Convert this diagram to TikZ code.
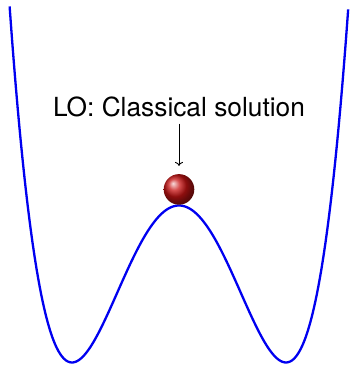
\documentclass[tikz,border=0pt]{standalone}
\usepackage{fontspec}
\setmainfont{TeX Gyre Heros}
\usetikzlibrary{arrows.meta,positioning}
\definecolor{WellBlue}{HTML}{0000F0}
\definecolor{BallRed}{HTML}{C81414}
\definecolor{Ink}{HTML}{000000}
\tikzset{
  well/.style={draw=WellBlue,line width=2.3pt,line join=round},
  bead/.style={circle,shading=ball,ball color=BallRed,minimum size=30.6pt,inner sep=0pt},
  lbl/.style={font=\fontsize{26.3}{30}\selectfont,text=Ink,inner sep=0pt,anchor=base},
  pnt/.style={draw=Ink,line width=0.9pt,-{To[length=4pt,width=8pt]}},
}
\begin{document}
\begin{tikzpicture}[x=1pt,y=1pt]
\useasboundingbox (0,0) rectangle (349,365);
% Double-well potential, minima at +-107 around the hump.
\draw[well] plot[domain=-1.583:1.583,samples=181,smooth] ({179+107*\x},{2.5+157*(\x*\x-1)^2});
\node[bead] (ball) at (179,175.6) {};
\node[lbl] (cls) at (179,248) {LO: Classical solution};
\draw[pnt,shorten <=6pt,shorten >=8pt] (cls.south) -- (ball.north);
\end{tikzpicture}
\end{document}
